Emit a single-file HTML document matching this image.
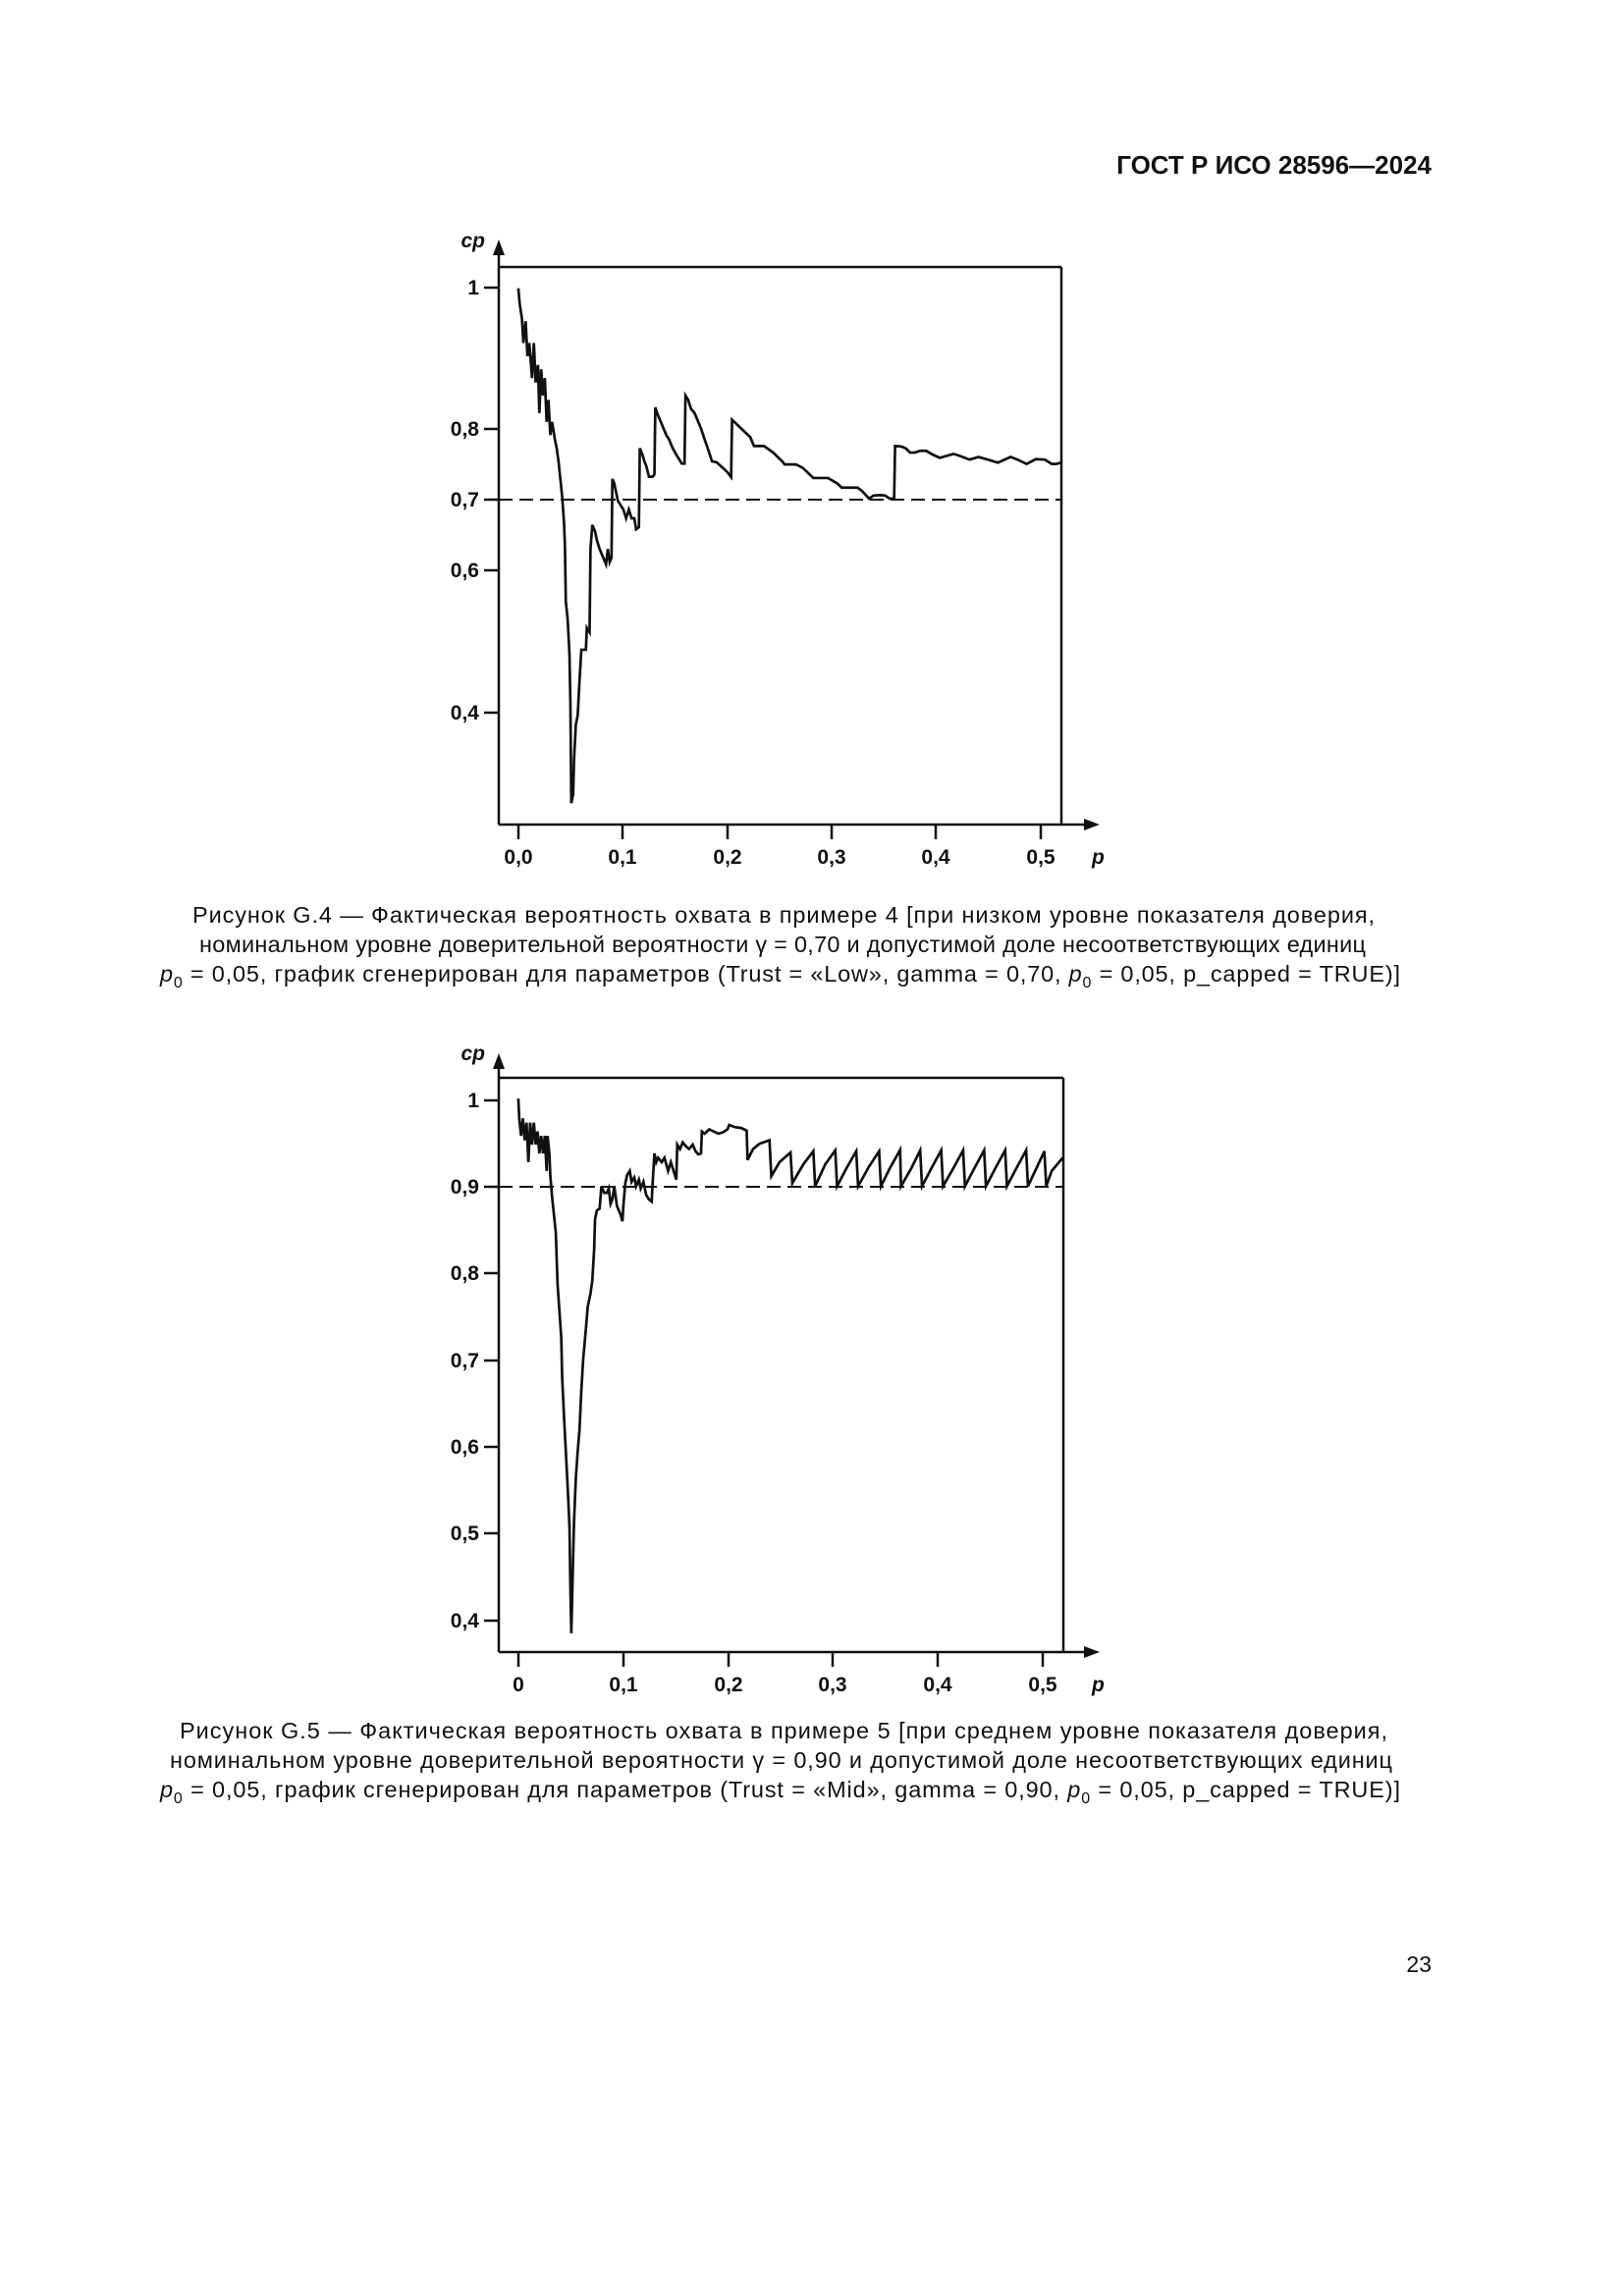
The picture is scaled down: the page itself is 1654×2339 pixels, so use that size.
<!DOCTYPE html>
<html><head><meta charset="utf-8"><style>
html,body{margin:0;padding:0;background:#fff;}
svg{display:block;}
text{font-family:"Liberation Sans",Arial,sans-serif;fill:#111;}
.t{font-size:21px;font-weight:bold;}
.c{font-size:23.5px;}
</style></head><body>
<svg width="1654" height="2339" viewBox="0 0 1654 2339" xmlns="http://www.w3.org/2000/svg">
<text x="1458" y="177" text-anchor="end" style="font-size:26px;font-weight:bold">ГОСТ Р ИСО 28596—2024</text>

<!-- Chart 1 -->
<g stroke="#111" stroke-width="2.5" fill="none">
<line x1="508" y1="250" x2="508" y2="840"/>
<line x1="508" y1="272" x2="1081" y2="272"/>
<line x1="1081" y1="272" x2="1081" y2="840"/>
<line x1="508" y1="840" x2="1110" y2="840"/>
<line x1="493" y1="293" x2="508" y2="293"/><line x1="493" y1="437" x2="508" y2="437"/><line x1="493" y1="509" x2="508" y2="509"/><line x1="493" y1="581" x2="508" y2="581"/><line x1="493" y1="726" x2="508" y2="726"/>
<line x1="528" y1="840" x2="528" y2="855"/><line x1="634" y1="840" x2="634" y2="855"/><line x1="741" y1="840" x2="741" y2="855"/><line x1="847" y1="840" x2="847" y2="855"/><line x1="953" y1="840" x2="953" y2="855"/><line x1="1060" y1="840" x2="1060" y2="855"/>
<line x1="508" y1="509" x2="1081" y2="509" stroke-dasharray="14,7" stroke-width="2"/>
</g>
<polygon points="508,244 502,260 514,260" fill="#111"/>
<polygon points="1120,840 1104,834 1104,846" fill="#111"/>
<text x="494" y="252" text-anchor="end" class="t" font-style="italic">cp</text>
<g class="t" text-anchor="end"><text x="488" y="300">1</text><text x="488" y="444">0,8</text><text x="488" y="516">0,7</text><text x="488" y="588">0,6</text><text x="488" y="733">0,4</text></g>
<g class="t" text-anchor="middle"><text x="528" y="880">0,0</text><text x="634" y="880">0,1</text><text x="741" y="880">0,2</text><text x="847" y="880">0,3</text><text x="953" y="880">0,4</text><text x="1060" y="880">0,5</text></g>
<text x="1112" y="880" class="t" font-style="italic">p</text>
<g transform="translate(420,220) scale(0.4651,0.4464)">
<polyline fill="none" stroke="#111" stroke-width="2.7" vector-effect="non-scaling-stroke" points="232,165 235,200 240,235 243,290 248,240 252,320 256,290 262,370 266,290 270,380 275,340 278,450 282,350 286,410 290,370 294,470 298,420 302,500 306,470 312,510 316,530 320,560 324,600 328,640 332,700 334,750 336,880 340,920 344,1000 346,1110 348,1340 352,1320 354,1240 358,1160 362,1140 366,1060 370,990 380,990 382,940 388,950 390,760 394,705 400,720 404,740 410,760 418,780 424,795 428,760 432,790 436,780 438,600 442,610 446,630 450,650 456,660 462,670 468,690 474,670 480,690 486,690 490,715 496,710 498,530 504,545 508,560 512,570 518,595 526,595 530,590 532,437 536,450 540,460 544,470 548,480 556,500 562,510 570,530 578,545 584,555 590,565 596,565 598,410 604,420 610,440 618,450 624,465 632,485 640,510 650,540 656,560 666,562 680,575 690,585 698,596 700,465 710,475 720,485 730,495 740,505 748,525 770,525 790,540 810,560 815,567 840,567 855,575 870,590 878,598 910,598 930,610 940,620 975,620 985,628 1000,645 1010,638 1025,637 1035,638 1045,645 1055,645 1057,525 1070,526 1080,530 1090,540 1100,540 1112,536 1125,536 1140,545 1155,552 1165,549 1185,543 1200,548 1220,556 1240,550 1260,556 1282,563 1310,550 1325,556 1345,566 1365,555 1385,556 1400,566 1410,566 1420,563"/>
</g>
<g class="c">
<text x="196" y="940" textLength="1204" lengthAdjust="spacing">Рисунок G.4 — Фактическая вероятность охвата в примере 4 [при низком уровне показателя доверия,</text>
<text x="203" y="970" textLength="1188" lengthAdjust="spacing">номинальном уровне доверительной вероятности γ = 0,70 и допустимой доле несоответствующих единиц</text>
<text x="163" y="1000" textLength="1263" lengthAdjust="spacing"><tspan font-style="italic">p</tspan><tspan font-size="16" dy="6">0</tspan><tspan dy="-6"> = 0,05, график сгенерирован для параметров (Trust = «Low», gamma = 0,70, </tspan><tspan font-style="italic">p</tspan><tspan font-size="16" dy="6">0</tspan><tspan dy="-6"> = 0,05, p_capped = TRUE)]</tspan></text>
</g>

<!-- Chart 2 -->
<g stroke="#111" stroke-width="2.5" fill="none">
<line x1="508" y1="1080" x2="508" y2="1683"/>
<line x1="508" y1="1098" x2="1083" y2="1098"/>
<line x1="1083" y1="1098" x2="1083" y2="1683"/>
<line x1="508" y1="1683" x2="1110" y2="1683"/>
<line x1="493" y1="1121" x2="508" y2="1121"/><line x1="493" y1="1209" x2="508" y2="1209"/><line x1="493" y1="1297" x2="508" y2="1297"/><line x1="493" y1="1386" x2="508" y2="1386"/><line x1="493" y1="1474" x2="508" y2="1474"/><line x1="493" y1="1562" x2="508" y2="1562"/><line x1="493" y1="1651" x2="508" y2="1651"/>
<line x1="528" y1="1683" x2="528" y2="1698"/><line x1="635" y1="1683" x2="635" y2="1698"/><line x1="742" y1="1683" x2="742" y2="1698"/><line x1="848" y1="1683" x2="848" y2="1698"/><line x1="955" y1="1683" x2="955" y2="1698"/><line x1="1062" y1="1683" x2="1062" y2="1698"/>
<line x1="508" y1="1209" x2="1083" y2="1209" stroke-dasharray="14,7" stroke-width="2"/>
</g>
<polygon points="508,1073 502,1089 514,1089" fill="#111"/>
<polygon points="1120,1683 1104,1677 1104,1689" fill="#111"/>
<text x="494" y="1080" text-anchor="end" class="t" font-style="italic">cp</text>
<g class="t" text-anchor="end"><text x="488" y="1128">1</text><text x="488" y="1216">0,9</text><text x="488" y="1304">0,8</text><text x="488" y="1393">0,7</text><text x="488" y="1481">0,6</text><text x="488" y="1569">0,5</text><text x="488" y="1658">0,4</text></g>
<g class="t" text-anchor="middle"><text x="528" y="1723">0</text><text x="635" y="1723">0,1</text><text x="742" y="1723">0,2</text><text x="848" y="1723">0,3</text><text x="955" y="1723">0,4</text><text x="1062" y="1723">0,5</text></g>
<text x="1112" y="1723" class="t" font-style="italic">p</text>
<g transform="translate(420,1050) scale(0.4651,0.4464)">
<polyline fill="none" stroke="#111" stroke-width="2.7" vector-effect="non-scaling-stroke" points="232,155 234,200 238,240 242,200 246,250 250,210 254,300 258,210 262,260 266,210 270,260 274,230 278,280 282,240 286,280 290,240 294,320 296,240 300,280 302,330 306,380 310,420 314,460 318,580 322,640 326,700 328,790 332,880 336,960 340,1040 344,1130 346,1270 348,1375 350,1290 352,1200 354,1120 358,1020 362,960 366,910 370,820 374,750 380,680 384,630 390,600 394,570 398,500 400,430 404,410 410,406 414,355 420,370 426,370 430,360 434,395 438,385 442,355 448,400 456,420 460,435 462,400 466,350 470,330 476,320 480,345 486,335 490,355 496,340 500,360 506,345 512,375 518,385 524,390 526,350 530,280 534,300 538,290 546,300 552,290 560,320 566,300 572,320 578,340 580,260 586,270 592,255 600,265 606,270 614,260 620,275 626,282 632,280 634,230 640,235 650,225 660,230 670,235 680,232 690,225 694,215 706,220 720,222 732,228 734,295 746,270 760,258 782,250 786,332 804,300 828,278 832,348 856,305 878,275 882,355 904,305 926,273 930,355 950,315 972,275 976,355 1000,310 1022,275 1026,355 1045,315 1068,272 1070,355 1092,315 1112,273 1116,355 1136,315 1158,273 1162,355 1184,315 1206,273 1210,355 1230,315 1252,273 1256,355 1276,315 1298,273 1302,355 1322,315 1344,273 1348,355 1366,315 1384,275 1388,355 1400,320 1424,290"/>
</g>
<g class="c">
<text x="183" y="1771" textLength="1230" lengthAdjust="spacing">Рисунок G.5 — Фактическая вероятность охвата в примере 5 [при среднем уровне показателя доверия,</text>
<text x="173" y="1801" textLength="1245" lengthAdjust="spacing">номинальном уровне доверительной вероятности γ = 0,90 и допустимой доле несоответствующих единиц</text>
<text x="163" y="1831" textLength="1263" lengthAdjust="spacing"><tspan font-style="italic">p</tspan><tspan font-size="16" dy="6">0</tspan><tspan dy="-6"> = 0,05, график сгенерирован для параметров (Trust = «Mid», gamma = 0,90, </tspan><tspan font-style="italic">p</tspan><tspan font-size="16" dy="6">0</tspan><tspan dy="-6"> = 0,05, p_capped = TRUE)]</tspan></text>
</g>

<text x="1458" y="2009" text-anchor="end" style="font-size:23px">23</text>
</svg>
</body></html>
